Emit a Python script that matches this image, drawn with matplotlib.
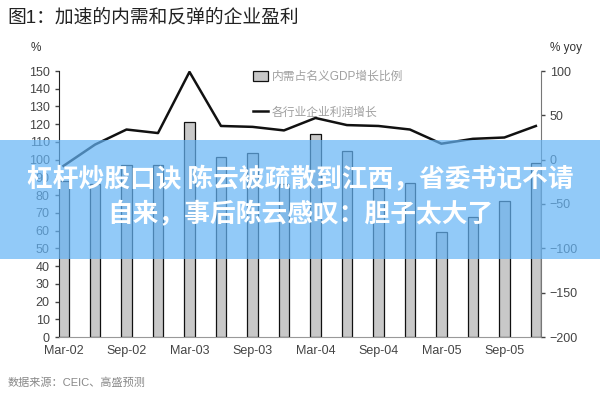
import numpy as np
import matplotlib
matplotlib.use("Agg")
import matplotlib.pyplot as plt
from matplotlib.patches import Rectangle, Patch
from matplotlib.lines import Line2D

plt.rcParams['font.family'] = ['Liberation Sans', 'Noto Sans CJK SC', 'DejaVu Sans']

# quarterly data, Mar-02 .. Dec-05
quarters = ["Mar-02", "Jun-02", "Sep-02", "Dec-02", "Mar-03", "Jun-03", "Sep-03", "Dec-03",
            "Mar-04", "Jun-04", "Sep-04", "Dec-04", "Mar-05", "Jun-05", "Sep-05", "Dec-05"]
domestic_share = [88, 86, 97, 97, 121, 101.5, 104, 86, 114.5, 105, 84, 87, 59, 67.5, 76.5, 98]
profit_growth = [-7, 17, 34, 30, 99, 38, 37, 33, 47, 39, 38, 34, 18, 23.5, 25, 38]

title = "图1：加速的内需和反弹的企业盈利"
bar_label = "内需占名义GDP增长比例"
line_label = "各行业企业利润增长"
source = "数据来源：CEIC、高盛预测"
banner_1 = "杠杆炒股口诀 陈云被疏散到江西，省委书记不请"
banner_2 = "自来，事后陈云感叹：胆子太大了"

fig = plt.figure(figsize=(6, 4), dpi=100)
ax = fig.add_axes([0.098, 0.1575, 0.803, 0.665])
ax2 = ax.twinx()

x = np.arange(len(quarters))
ax.bar(x, domestic_share, width=0.33, color="#c8c8c8", edgecolor="#111111", linewidth=0.9, zorder=2)
ax2.plot(x, profit_growth, color="#111111", linewidth=1.8, zorder=3)

ax.set_xlim(-0.15, 15.15)
ax.set_ylim(0, 150)
ax.set_yticks(range(0, 151, 10))
ax2.set_ylim(-200, 100)
ax2.set_yticks(range(-200, 101, 50))
ax.set_xticks(x[::2])
ax.set_xticklabels(quarters[::2])

for a in (ax, ax2):
    a.spines['top'].set_visible(False)
    a.tick_params(labelsize=9, colors="#444444", length=3, width=1)
ax.spines['right'].set_visible(False)
ax2.spines['left'].set_visible(False)
ax2.spines['bottom'].set_visible(False)
ax.spines['left'].set_color("#222222")
ax2.spines['right'].set_color("#777777")
ax.spines['bottom'].set_color("#999999")
ax.tick_params(axis='x', length=0, pad=6)

fig.text(0.013, 0.955, title, fontsize=13.5, color="#222222", va='center')
fig.text(0.06, 0.88, "%", fontsize=8.5, color="#333333", ha='center', va='center')
fig.text(0.943, 0.88, "% yoy", fontsize=8.5, color="#333333", ha='center', va='center')
fig.text(0.013, 0.042, source, fontsize=8, color="#888888", va='center')

handles = [Patch(facecolor="#c8c8c8", edgecolor="#111111", linewidth=0.9),
           Line2D([0], [0], color="#111111", linewidth=1.8)]
ax.legend(handles, [bar_label, line_label], loc='upper left', bbox_to_anchor=(0.38, 1.04),
          frameon=False, fontsize=8.5, labelcolor="#a0a0a0", labelspacing=2.0,
          handlelength=1.3, handleheight=0.9, handletextpad=0.3)

# translucent banner across the chart
fig.add_artist(Rectangle((0, 0.3525), 1, 0.2975, transform=fig.transFigure,
                         facecolor="#64b4f6", alpha=0.7, edgecolor='none', zorder=10))
fig.text(0.5, 0.55, banner_1, fontsize=18.5, fontweight='bold', color='white',
         ha='center', va='center', zorder=11, family=['Noto Sans CJK SC', 'DejaVu Sans'])
fig.text(0.5, 0.4625, banner_2, fontsize=18.5, fontweight='bold', color='white',
         ha='center', va='center', zorder=11, family=['Noto Sans CJK SC', 'DejaVu Sans'])

fig.savefig("out.png", dpi=100)
